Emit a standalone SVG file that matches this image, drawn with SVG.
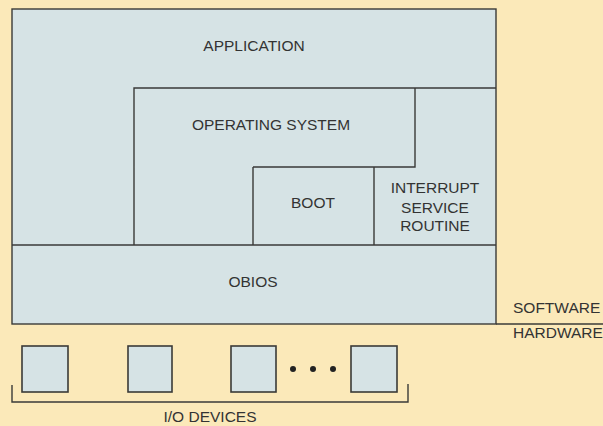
<svg xmlns="http://www.w3.org/2000/svg" width="603" height="426" viewBox="0 0 603 426">
<style>
.bg{fill:#fbe9b9}
.fill{fill:#d6e3e5}
.ln{fill:none;stroke:#3a3a38;stroke-width:1.4}
.box{fill:#d6e3e5;stroke:#3a3a38;stroke-width:1.6}
text{font-family:"Liberation Sans",Arial,sans-serif;font-size:15.5px;fill:#333;text-anchor:middle}
.l{text-anchor:start}
</style>
<rect class="bg" x="0" y="0" width="603" height="426"/>
<g id="software">
<rect class="fill" x="12" y="9" width="484" height="315"/>
<rect class="ln" x="12" y="9" width="484" height="315"/>
</g>
<g id="application"><text x="254" y="51">APPLICATION</text></g>
<g id="operating-system">
<path class="ln" d="M134 245 V88 H496 M415 88 V167 H253"/>
<text x="271" y="130">OPERATING SYSTEM</text>
</g>
<g id="boot">
<path class="ln" d="M253 167 V245 M374 167 V245"/>
<text x="313" y="208">BOOT</text>
</g>
<g id="interrupt">
<text x="435" y="193">INTERRUPT</text>
<text x="435" y="213">SERVICE</text>
<text x="435" y="231">ROUTINE</text>
</g>
<g id="obios">
<path class="ln" d="M12 245 H496"/>
<text x="253" y="287">OBIOS</text>
</g>
<g id="divider">
<path class="ln" d="M496 324 H603"/>
<text class="l" x="513" y="313">SOFTWARE</text>
<text class="l" x="513" y="338">HARDWARE</text>
</g>
<g id="io-devices">
<rect class="box" x="22" y="346" width="46" height="46"/>
<rect class="box" x="128" y="346" width="44" height="46"/>
<rect class="box" x="231" y="346" width="45" height="46"/>
<rect class="box" x="351" y="346" width="46" height="46"/>
<circle cx="293" cy="369" r="3" fill="#222"/>
<circle cx="313" cy="369" r="3" fill="#222"/>
<circle cx="333" cy="369" r="3" fill="#222"/>
<path class="ln" d="M12 385 V402 H408 V384"/>
<text x="210" y="422">I/O DEVICES</text>
</g>
</svg>
